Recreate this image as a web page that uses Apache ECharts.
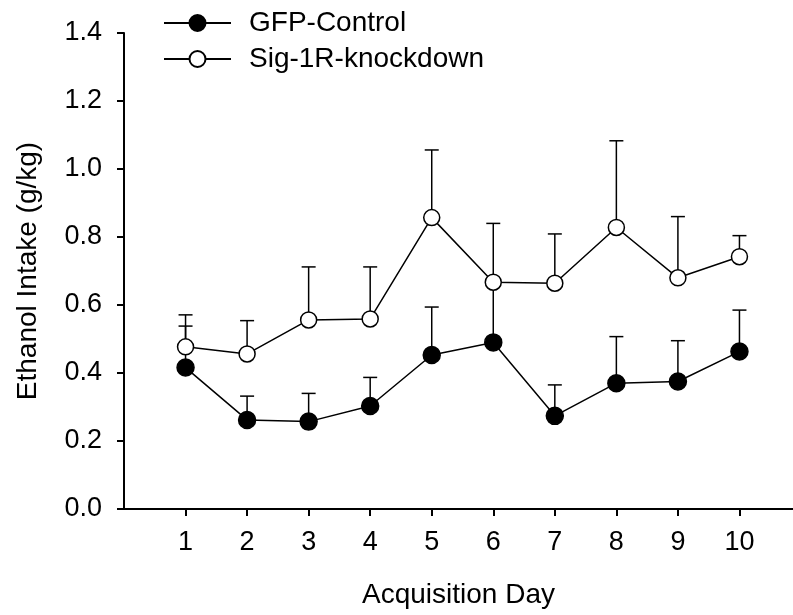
<!DOCTYPE html>
<html>
<head>
<meta charset="utf-8">
<script src="https://cdn.jsdelivr.net/npm/echarts@6/dist/echarts.min.js"></script>
<style>html,body{margin:0;padding:0;background:#fff}#c{width:793px;height:615px}</style>
</head>
<body>
<div id="c"></div>
<script>
const days = [1, 2, 3, 4, 5, 6, 7, 8, 9, 10];
const gfpMean = [0.416, 0.262, 0.257, 0.303, 0.453, 0.490, 0.274, 0.370, 0.375, 0.463];
const gfpSem  = [0.122, 0.070, 0.083, 0.084, 0.141, 0.170, 0.091, 0.137, 0.120, 0.122];
const sigMean = [0.477, 0.456, 0.556, 0.559, 0.857, 0.667, 0.664, 0.828, 0.680, 0.742];
const sigSem  = [0.094, 0.098, 0.156, 0.153, 0.199, 0.173, 0.145, 0.255, 0.180, 0.062];
const yTicks = [0, 0.2, 0.4, 0.6, 0.8, 1.0, 1.2, 1.4];
const seriesNames = ['GFP-Control', 'Sig-1R-knockdown'];

const FONT = 'Liberation Sans';

function errData(mean, sem) {
  return days.map((d, i) => [d, mean[i], mean[i] + sem[i]]);
}
function errRender(params, api) {
  const x = api.value(0);
  const p0 = api.coord([x, api.value(1)]);
  const p1 = api.coord([x, api.value(2)]);
  const hw = 7;
  const st = {stroke: '#000', lineWidth: 1.5, fill: 'none'};
  return {
    type: 'group',
    children: [
      {type: 'line', shape: {x1: p0[0], y1: p0[1], x2: p1[0], y2: p1[1]}, style: st},
      {type: 'line', shape: {x1: p1[0] - hw, y1: p1[1], x2: p1[0] + hw, y2: p1[1]}, style: st}
    ]
  };
}

const chart = echarts.init(document.getElementById('c'), null, {renderer: 'canvas'});
chart.setOption({
  backgroundColor: '#fff',
  animation: false,
  textStyle: {fontFamily: FONT, color: '#000'},
  grid: {left: 124, top: 33, right: 0, bottom: 106, containLabel: false},
  legend: {
    orient: 'vertical',
    left: 163,
    top: 9,
    padding: 0,
    itemWidth: 67,
    itemHeight: 20,
    itemGap: 8,
    data: seriesNames,
    textStyle: {fontFamily: FONT, fontSize: 28, color: '#000', lineHeight: 28, padding: [0, 0, 0, 13]}
  },
  xAxis: {
    type: 'value',
    min: 0,
    max: 10.87,
    interval: 1,
    name: 'Acquisition Day',
    nameLocation: 'middle',
    nameGap: 72,
    nameTextStyle: {fontFamily: FONT, fontSize: 28, color: '#000'},
    axisLine: {show: true, onZero: false, lineStyle: {color: '#000', width: 2}},
    axisTick: {show: true, inside: false, length: 7, customValues: days, lineStyle: {color: '#000', width: 2}},
    axisLabel: {show: true, customValues: days, margin: 20, fontFamily: FONT, fontSize: 27, color: '#000'},
    splitLine: {show: false}
  },
  yAxis: {
    type: 'value',
    min: 0,
    max: 1.4,
    interval: 0.2,
    name: 'Ethanol Intake (g/kg)',
    nameLocation: 'middle',
    nameGap: 82,
    nameTextStyle: {fontFamily: FONT, fontSize: 28, color: '#000'},
    axisLine: {show: true, lineStyle: {color: '#000', width: 2}},
    axisTick: {show: true, inside: false, length: 7, lineStyle: {color: '#000', width: 2}},
    axisLabel: {show: true, margin: 22, fontFamily: FONT, fontSize: 27, color: '#000',
      customValues: yTicks, formatter: v => v.toFixed(1)},
    splitLine: {show: false}
  },
  series: [
    {
      type: 'custom', name: 'gfpErr', renderItem: errRender, data: errData(gfpMean, gfpSem),
      encode: {x: 0, y: [1, 2]}, z: 1, silent: true
    },
    {
      type: 'custom', name: 'sigErr', renderItem: errRender, data: errData(sigMean, sigSem),
      encode: {x: 0, y: [1, 2]}, z: 1, silent: true
    },
    {
      type: 'line', name: seriesNames[0], data: days.map((d, i) => [d, gfpMean[i]]), z: 3,
      symbol: 'circle', symbolSize: 17, showAllSymbol: true,
      lineStyle: {color: '#000', width: 1.5},
      itemStyle: {color: '#000', borderColor: '#000', borderWidth: 1.5}
    },
    {
      type: 'line', name: seriesNames[1], data: days.map((d, i) => [d, sigMean[i]]), z: 4,
      symbol: 'circle', symbolSize: 16, showAllSymbol: true,
      lineStyle: {color: '#000', width: 1.5},
      itemStyle: {color: '#fff', borderColor: '#000', borderWidth: 1.5}
    }
  ]
});
</script>
</body>
</html>
